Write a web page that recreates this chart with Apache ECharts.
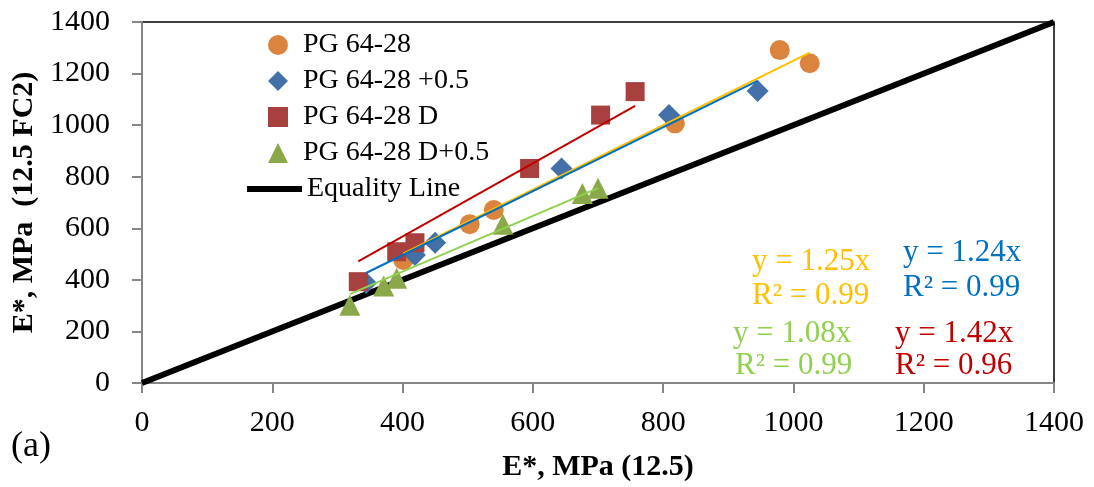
<!DOCTYPE html>
<html>
<head>
<meta charset="utf-8">
<script src="https://cdn.jsdelivr.net/npm/echarts@6/dist/echarts.min.js"></script>
<style>
  html, body { margin: 0; padding: 0; background: #fff; }
  #chart { width: 1094px; height: 487px; }
</style>
</head>
<body>
<div id="chart"></div>
<script>
// measured points [E* 12.5, E* 12.5 FC2]
const pg6428 = [[401, 477], [503, 616], [540, 671], [818, 1007], [979, 1291], [1025, 1240]];
const pg6428p05 = [[344, 388], [419, 496], [450, 544], [644, 832], [809, 1039], [945, 1132]];
const pg6428D = [[332, 393], [391, 509], [419, 544], [595, 832], [704, 1039], [757, 1130]];
const pg6428Dp05 = [[319, 302], [371, 376], [391, 406], [554, 616], [676, 735], [700, 755]];
const equality = [[0, 0], [1400, 1400]];

const seriesNames = ['PG 64-28', 'PG 64-28 +0.5', 'PG 64-28 D', 'PG 64-28 D+0.5'];
const slopes = [1.25, 1.24, 1.42, 1.08];
const r2 = ['0.99', '0.99', '0.96', '0.99'];
const axisTicks = [0, 200, 400, 600, 800, 1000, 1200, 1400];

const font = 'Liberation Serif';
const markerColors = ['#DB843D', '#4470A8', '#A84040', '#8AA84A'];
const markerSymbols = ['circle', 'diamond', 'rect', 'triangle'];
const markerSizes = [20, 22, 19, 21];
const trendColors = ['#FFC000', '#0070C0', '#C00000', '#92D050'];

const allData = [pg6428, pg6428p05, pg6428D, pg6428Dp05];

// trend line through origin, from smallest to largest x of the series
function trend(data, k) {
  const xs = data.map(d => d[0]);
  const lo = Math.min(...xs), hi = Math.max(...xs);
  return [[lo, k * lo], [hi, k * hi]];
}

const chart = echarts.init(document.getElementById('chart'));

const series = [{
  name: 'Equality Line',
  type: 'line',
  data: equality,
  symbol: 'none',
  itemStyle: { color: '#000' },
  lineStyle: { color: '#000', width: 6 },
  z: 1
}];
allData.forEach((d, i) => {
  series.push({
    name: seriesNames[i],
    type: 'scatter',
    data: d,
    symbol: markerSymbols[i],
    symbolSize: markerSizes[i],
    itemStyle: { color: markerColors[i], opacity: 1 },
    z: 2
  });
});
allData.forEach((d, i) => {
  series.push({
    name: 'trend' + i,
    type: 'line',
    data: trend(d, slopes[i]),
    symbol: 'none',
    lineStyle: { color: trendColors[i], width: 2 },
    z: 3,
    silent: true
  });
});

// equation labels (yellow, blue, red, green)
const eqPos = [[752, 263, 752, 297], [903, 254, 903, 289], [895, 335, 895, 367], [733, 335, 735, 367]];
const graphics = [];
slopes.forEach((k, i) => {
  const p = eqPos[i];
  graphics.push({ type: 'text', left: p[0], top: p[1] - 17,
    style: { text: 'y = ' + k.toFixed(2) + 'x', fill: trendColors[i], font: '31px "' + font + '"' } });
  graphics.push({ type: 'text', left: p[2], top: p[3] - 17,
    style: { text: 'R² = ' + r2[i], fill: trendColors[i], font: '31px "' + font + '"' } });
});
graphics.push({ type: 'text', left: 11, top: 429,
  style: { text: '(a)', fill: '#000', font: '36px "' + font + '"' } });

const axisCommon = {
  type: 'value',
  min: 0,
  max: 1400,
  interval: 200,
  nameLocation: 'middle',
  nameTextStyle: { fontFamily: font, fontWeight: 'bold', fontSize: 30, color: '#000' },
  axisLine: { show: true, lineStyle: { color: '#868686', width: 2 } },
  axisTick: { show: true, length: 10, lineStyle: { color: '#868686', width: 2 } },
  splitLine: { show: false },
  axisLabel: {
    fontFamily: font, fontSize: 30, color: '#000',
    formatter: v => axisTicks.includes(v) ? String(v) : ''
  }
};

chart.setOption({
  animation: false,
  textStyle: { fontFamily: font },
  grid: {
    left: 142, right: 40, top: 22, bottom: 104,
    show: true, borderColor: '#000', borderWidth: 1.5, backgroundColor: '#fff'
  },
  xAxis: Object.assign({}, axisCommon, {
    name: 'E*, MPa (12.5)',
    nameGap: 69,
    axisLabel: Object.assign({}, axisCommon.axisLabel, { margin: 25 })
  }),
  yAxis: Object.assign({}, axisCommon, {
    name: 'E*, MPa  (12.5 FC2)',
    nameGap: 96,
    axisLabel: Object.assign({}, axisCommon.axisLabel, { margin: 32 })
  }),
  legend: [{
    data: seriesNames,
    orient: 'vertical',
    left: 263,
    top: 26,
    itemWidth: 20,
    itemHeight: 20,
    itemGap: 8,
    textStyle: { fontFamily: font, fontSize: 28, color: '#000', lineHeight: 28, padding: [0, 0, 0, 10] }
  }, {
    data: [{ name: 'Equality Line', icon: 'rect', itemStyle: { color: '#000' } }],
    left: 242,
    top: 170,
    itemWidth: 55,
    itemHeight: 6,
    itemGap: 0,
    textStyle: { fontFamily: font, fontSize: 28, color: '#000', lineHeight: 28 }
  }],
  graphic: graphics,
  series: series
});
</script>
</body>
</html>
